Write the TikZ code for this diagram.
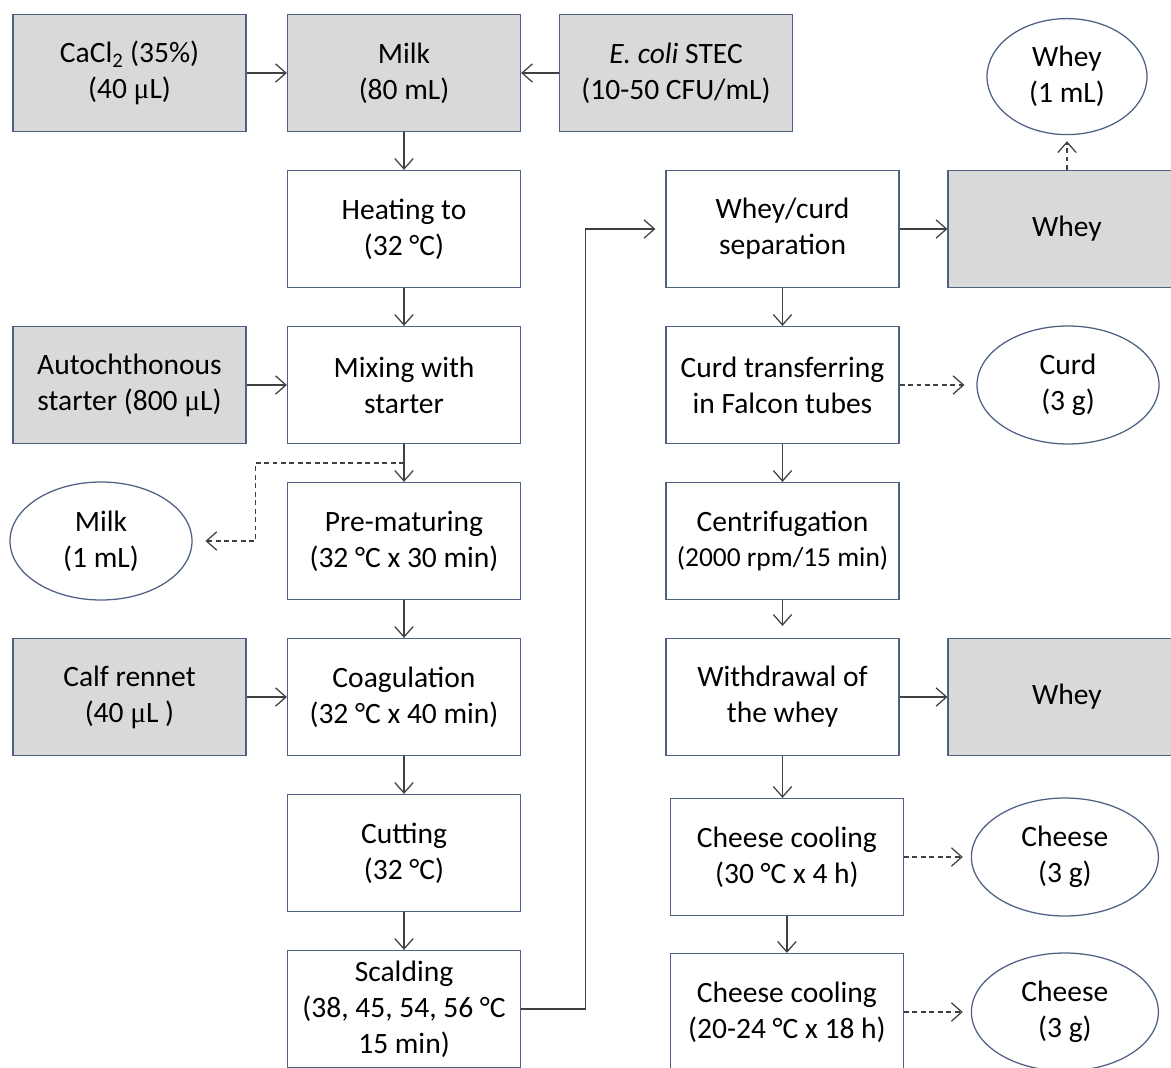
\documentclass[tikz,border=0pt]{standalone}
\usepackage{fontspec}
\setmainfont{Carlito}
\newfontfamily\mufont{Liberation Serif}
\usetikzlibrary{arrows.meta,calc,positioning,shapes.geometric}

\begin{document}
\begin{tikzpicture}[
        node distance=3.9cm,
        font=\fontsize{21}{25.6}\selectfont,
    ]

    \tikzstyle{box} = [rectangle, minimum width=5.825cm, minimum height=2.925cm,
                       text centered, align=center, draw=boxblue, line width=0.9pt];
    \tikzstyle{inbox} = [box, fill=boxgrey];
    \tikzstyle{sample} = [ellipse, minimum width=4.55cm, minimum height=2.95cm,
                          align=center, inner sep=0pt, draw=boxblue, line width=0.9pt];
    \tikzstyle{flow} = [-{Straight Barb[length=2.6mm, width=4.6mm]}, line width=0.9pt, draw=linegrey];
    \tikzstyle{take} = [flow, dash pattern=on 3.5pt off 2.5pt];

    \definecolor{boxblue}{RGB}{79,97,130}
    \definecolor{boxgrey}{RGB}{217,217,217}
    \definecolor{linegrey}{RGB}{64,64,64}

    \useasboundingbox (0,0) rectangle (29.275,-26.675);
    \clip (0,0) rectangle (29.275,-26.675);

    % Main line
    \node[inbox] (milk) at (10.1,-1.825) {Milk\\(80 mL)};
    \node[box, below of=milk] (heat) {Heating to\\(32 °C)};
    \node[box, below of=heat] (mix) {Mixing with\\starter};
    \node[box, below of=mix] (premat) {Pre-maturing\\(32 °C x 30 min)};
    \node[box, below of=premat] (coag) {Coagulation\\(32 °C x 40 min)};
    \node[box, below of=coag] (cut) {Cutting\\(32 °C)};
    \node[box, below of=cut] (scald) {Scalding\\(38, 45, 54, 56 °C\\15 min)};

    % Inputs and samples, left
    \node[inbox, left of=milk, node distance=6.8625cm] (cacl) {CaCl\textsubscript{2} (35\%)\\(40 {\mufont μ}L)};
    \node[inbox, right of=milk, node distance=6.8cm] (ecoli) {\textit{E. coli} STEC\\(10-50 CFU/mL)};
    \node[inbox, left of=mix, node distance=6.8625cm] (auto) {Autochthonous\\starter (800 {\mufont μ}L)};
    \node[sample, left of=premat, node distance=7.575cm] (milksmp) {Milk\\(1 mL)};
    \node[inbox, left of=coag, node distance=6.8625cm] (rennet) {Calf rennet\\(40 {\mufont μ}L )};

    % Curd line
    \node[box, right of=heat, node distance=9.4625cm] (sep) {Whey/curd\\separation};
    \node[box, below of=sep] (curd) {Curd transferring\\in Falcon tubes};
    \node[box, below of=curd] (centr) {Centrifugation\\{\fontsize{19.5}{24}\selectfont (2000 rpm/15 min)}};
    \node[box, below of=centr] (withdr) {Withdrawal of\\the whey};
    \node[box, below of=withdr, node distance=4cm, xshift=0.11cm] (cool1) {Cheese cooling\\(30 °C x 4 h)};
    \node[box, below of=cool1, node distance=3.875cm] (cool2) {Cheese cooling\\(20-24 °C x 18 h)};

    % Outputs and samples, right
    \node[inbox, right of=sep, node distance=7.1125cm, minimum width=5.95cm] (whey1) {Whey};
    \node[sample, above of=whey1, node distance=3.81cm, minimum width=4cm, minimum height=2.9cm] (wheysmp) {Whey\\(1 mL)};
    \node[sample, right of=curd, node distance=7.1375cm] (curdsmp) {Curd\\(3 g)};
    \node[inbox, right of=withdr, node distance=7.1125cm, minimum width=5.95cm] (whey2) {Whey};
    \node[sample, right of=cool1, node distance=6.95cm, minimum width=4.675cm] (chsmp1) {Cheese\\(3 g)};
    \node[sample, right of=cool2, node distance=6.95cm, minimum width=4.675cm] (chsmp2) {Cheese\\(3 g)};

    % Arrows
    \draw[flow] (cacl) -- (milk);
    \draw[flow] (ecoli) -- (milk);
    \draw[flow] (milk) -- (heat);
    \draw[flow] (heat) -- (mix);
    \draw[flow] (auto) -- (mix);
    \draw[flow] (mix) -- (premat);
    \draw[flow] (premat) -- (coag);
    \draw[flow] (rennet) -- (coag);
    \draw[flow] (coag) -- (cut);
    \draw[flow] (cut) -- (scald);
    \draw[flow, shorten >=0.25cm] (scald.east) -- ++(1.6,0) |- (sep.west);
    \draw[flow] (sep) -- (whey1);
    \draw[flow] (sep) -- (curd);
    \draw[flow] (curd) -- (centr);
    \draw[flow, shorten >=0.3cm] (centr) -- (withdr);
    \draw[flow] (withdr) -- (whey2);
    \draw[flow] (withdr.south) -- (withdr.south |- cool1.north);
    \draw[flow] (cool1.south) -- (cool1.south |- cool2.north);

    % Sampling arrows
    \coordinate (split) at ($(mix.south)!0.5!(premat.north)$);
    \draw[take, shorten >=0.32cm] (split) -| ($(milksmp.east)+(1.575,0)$) -- (milksmp.east);
    \draw[take, shorten >=0.15cm] (whey1.north) -- (wheysmp.south);
    \draw[take, shorten >=0.3cm] (curd) -- (curdsmp);
    \draw[take, shorten >=0.2cm] (cool1) -- (chsmp1);
    \draw[take, shorten >=0.2cm] (cool2) -- (chsmp2);

    \end{tikzpicture}
\end{document}
